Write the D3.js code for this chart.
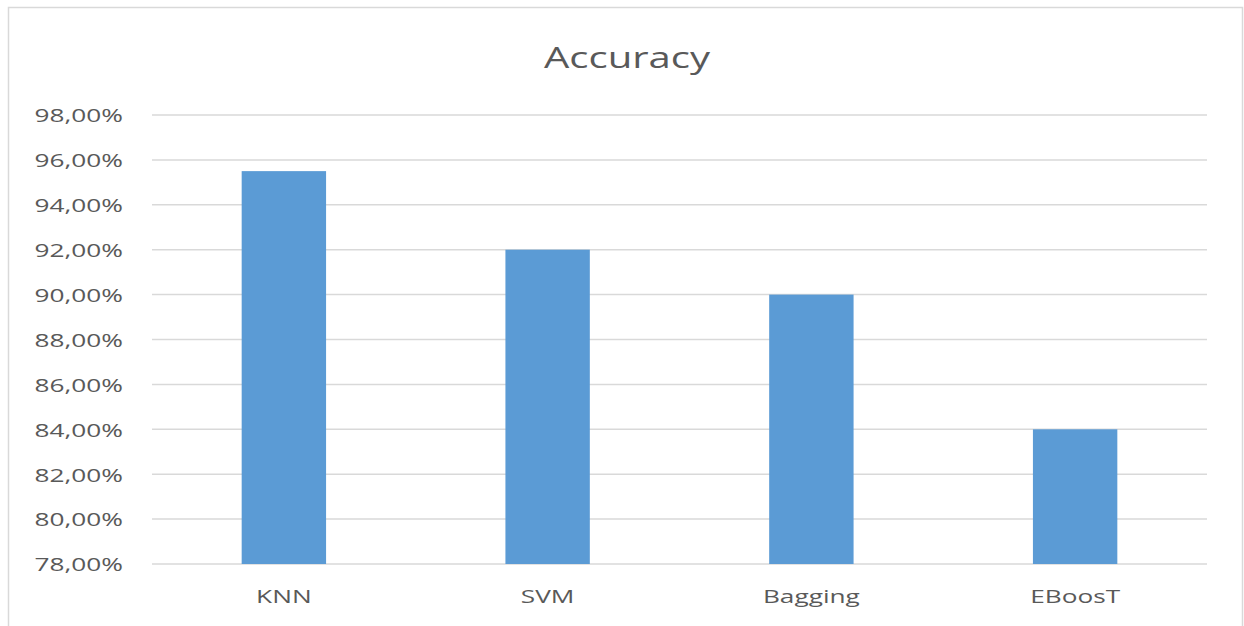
<!DOCTYPE html>
<html>
<head>
<meta charset="utf-8">
<script src="https://cdnjs.cloudflare.com/ajax/libs/d3/7.8.5/d3.min.js"></script>
<style>
  html, body { margin: 0; padding: 0; background: #ffffff; }
  svg { display: block; }
  text { font-family: "Open Sans", "Liberation Sans", sans-serif; fill: #595959; }
</style>
</head>
<body>
<svg id="chart" width="1244" height="626"></svg>
<script>
// Chart data
const title = "Accuracy";
const categories = ["KNN", "SVM", "Bagging", "EBoosT"];
const accuracy = [95.5, 92.0, 90.0, 84.0];
const yTicks = [78, 80, 82, 84, 86, 88, 90, 92, 94, 96, 98];

const W = 1244, H = 626;
const plot = { left: 152, right: 1207, top: 115, bottom: 564 };
const barColor = "#5B9BD5";
const gridColor = "#D9D9D9";
const stretch = 1.38; // horizontal widening of the lettering

const svg = d3.select("#chart");

// Outer chart frame
svg.append("rect")
  .attr("x", 8.5).attr("y", 7.5)
  .attr("width", 1234).attr("height", 640)
  .attr("fill", "#ffffff")
  .attr("stroke", gridColor).attr("stroke-width", 1.5);

const x = d3.scaleBand()
  .domain(categories)
  .range([plot.left, plot.right])
  .paddingInner(0.68)
  .paddingOuter(0.34);

const y = d3.scaleLinear()
  .domain([78, 98])
  .range([plot.bottom, plot.top]);

const locale = d3.formatLocale({ decimal: ",", thousands: ".", grouping: [3], currency: ["", "%"] });
const fmt = v => locale.format(".2f")(v) + "%";

function widen(sel) {
  sel.each(function () {
    const w = this.getComputedTextLength();
    d3.select(this).attr("textLength", w * stretch).attr("lengthAdjust", "spacingAndGlyphs");
  });
}

// Gridlines
svg.append("g")
  .selectAll("line")
  .data(yTicks)
  .join("line")
  .attr("x1", plot.left).attr("x2", plot.right)
  .attr("y1", d => y(d)).attr("y2", d => y(d))
  .attr("stroke", gridColor).attr("stroke-width", 1.5);

// Y axis labels
const yAxis = svg.append("g")
  .attr("transform", `translate(${plot.left},0)`)
  .call(d3.axisLeft(y).tickValues(yTicks).tickFormat(fmt).tickSize(0).tickPadding(29));
yAxis.select(".domain").remove();
yAxis.selectAll("text")
  .attr("font-size", 19)
  .attr("fill", "#595959")
  .attr("font-family", "\"Open Sans\", sans-serif")
  .attr("dy", "0.36em")
  .call(widen);

// Bars
svg.append("g")
  .selectAll("rect")
  .data(categories.map((c, i) => ({ c, v: accuracy[i] })))
  .join("rect")
  .attr("x", d => x(d.c))
  .attr("y", d => y(d.v))
  .attr("width", x.bandwidth())
  .attr("height", d => y(78) - y(d.v))
  .attr("fill", barColor);

// X axis labels
const xAxis = svg.append("g")
  .attr("transform", `translate(0,${plot.bottom})`)
  .call(d3.axisBottom(x).tickSize(0).tickPadding(26));
xAxis.select(".domain").remove();
xAxis.selectAll("text")
  .attr("font-size", 19)
  .attr("fill", "#595959")
  .attr("font-family", "\"Open Sans\", sans-serif")
  .call(widen);

// Title
svg.append("text")
  .attr("x", 627).attr("y", 68)
  .attr("text-anchor", "middle")
  .attr("font-size", 29)
  .text(title)
  .call(widen);
</script>
</body>
</html>
